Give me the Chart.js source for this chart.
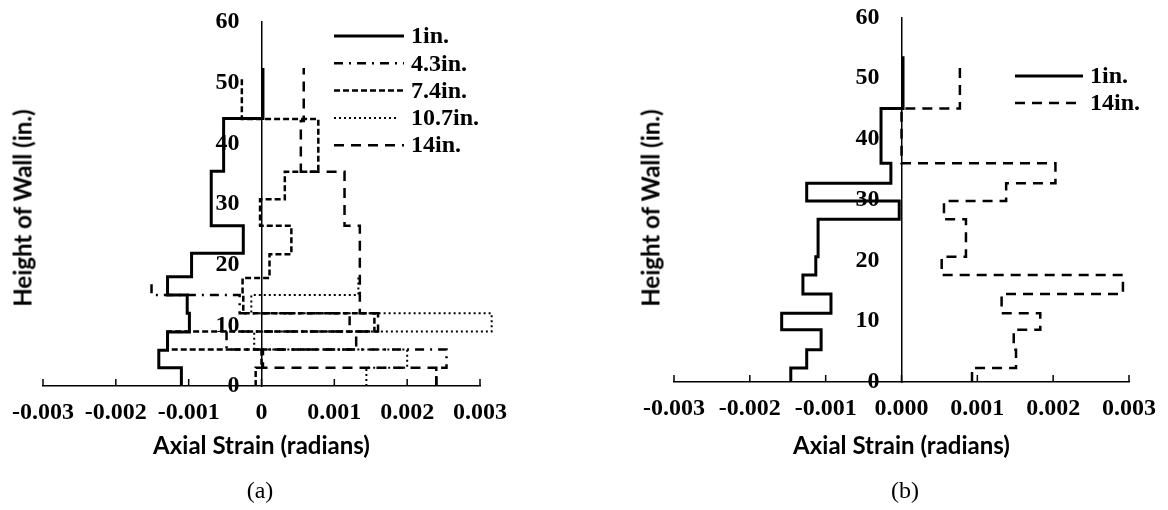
<!DOCTYPE html>
<html>
<head>
<meta charset="utf-8">
<script src="https://cdn.jsdelivr.net/npm/chart.js@4.4.0/dist/chart.umd.min.js"></script>
<style>
  body { margin: 0; background: #fff; }
  #page { position: relative; width: 1168px; height: 510px; overflow: hidden; }
  .panel { position: absolute; top: 0; height: 510px; }
  #panelA { left: 0; width: 560px; }
  #panelB { left: 600px; width: 568px; }
  .ytitle { position: absolute; font: bold 24px Lato, sans-serif; white-space: nowrap;
            transform: translate(-50%, -50%) rotate(-90deg); }
  .cap { position: absolute; font: 24px "Liberation Serif", serif; transform: translate(-50%, -50%); }
</style>
</head>
<body>
<div id="page">
  <div class="panel" id="panelA"><canvas id="chartA" width="560" height="510"></canvas></div>
  <div class="panel" id="panelB"><canvas id="chartB" width="568" height="510"></canvas></div>
  <div class="ytitle" style="left:22px; top:208px;">Height of Wall (in.)</div>
  <div class="ytitle" style="left:650px; top:208px;">Height of Wall (in.)</div>
  <div class="cap" style="left:260px; top:490px;">(a)</div>
  <div class="cap" style="left:905px; top:490px;">(b)</div>
</div>
<script>
// ---- data: wall height breakpoints (in.) and axial strain per gauge segment ----
const tickLabelsA = ['-0.003', '-0.002', '-0.001', '0', '0.001', '0.002', '0.003'];
const tickLabelsB = ['-0.003', '-0.002', '-0.001', '0.000', '0.001', '0.002', '0.003'];

// panel (a)
const hA1 = [0, 3, 5.9, 8.9, 12, 15, 18, 21.9, 26.4, 35.4, 44.1, 52.4];
const sA1 = [-0.0011, -0.00141, -0.00129, -0.00099, -0.00102, -0.00129, -0.00096, -0.00025, -0.00069, -0.00052, 0.00002];

const hA43 = [0, 3, 6, 9, 12, 15, 17.5];
const sA43 = [0.0024, 0.00254, -0.00048, 0.00121, -0.0003, -0.00151];

const hA74 = [0, 3, 6, 9, 12, 15, 17.8, 21.7, 26.4, 30.8, 35.3, 44, 51];
const sA74 = [-0.00008, 0.0, -0.00129, 0.00155, -0.00025, -0.00026, 0.00011, 0.00041, -0.00002, 0.00032, 0.00078, -0.00027];

const hA107 = [0, 3, 6, 9, 12, 15, 18];
const sA107 = [0.00144, 0.002, -0.0001, 0.00316, -0.00014, 0.00133];

const hA14 = [0, 3, 6, 9, 12, 26.4, 35.3, 43.7, 52.4];
const sA14 = [0.0024, 0.00002, 0.0013, 0.0016, 0.00135, 0.00114, 0.00054, 0.00058];

// panel (b)
const hB1 = [0, 2.3, 5.3, 8.6, 11.3, 14.5, 17.6, 20.6, 26.8, 29.8, 32.7, 36, 45, 53.6];
const sB1 = [-0.00146, -0.00125, -0.00106, -0.00158, -0.00093, -0.0013, -0.00113, -0.0011, -0.00003, -0.00125, -0.00014, -0.00027, 0.00002];

const hB14 = [0, 2.3, 5.3, 8.6, 11.3, 14.5, 17.6, 20.6, 26.8, 29.8, 32.7, 36, 45, 52];
const sB14 = [0.00093, 0.00151, 0.00148, 0.00183, 0.00132, 0.00292, 0.00053, 0.00085, 0.00056, 0.00138, 0.00203, 0.0, 0.00077];

// turn breakpoints + segment values into a stepped profile
function steps(h, s) {
  const pts = [];
  for (let i = 0; i < s.length; i++) {
    pts.push({x: s[i], y: h[i]});
    pts.push({x: s[i], y: h[i + 1]});
  }
  return pts;
}

function series(label, h, s, dash, width, legendLen) {
  return {
    label: label,
    data: steps(h, s),
    showLine: true,
    borderColor: '#000',
    backgroundColor: '#000',
    borderWidth: width,
    borderDash: dash,
    pointRadius: 0,
    fill: false,
    clip: false,
    legendLen: legendLen
  };
}

const serifBold = {family: '"Liberation Serif", "Times New Roman", serif', weight: 'bold', size: 24};

// legend drawn inside the plot, line sample + label per dataset
const lineLegend = {
  id: 'lineLegend',
  afterDraw(chart, args, opts) {
    const ctx = chart.ctx;
    ctx.save();
    ctx.font = 'bold 24px "Liberation Serif", serif';
    ctx.textBaseline = 'middle';
    ctx.fillStyle = '#000';
    chart.data.datasets.forEach((ds, i) => {
      const y = opts.y + i * opts.row;
      ctx.beginPath();
      ctx.setLineDash(ds.borderDash);
      ctx.lineWidth = ds.borderWidth;
      ctx.strokeStyle = '#000';
      ctx.moveTo(opts.x, y);
      ctx.lineTo(opts.x + (ds.legendLen || opts.len), y);
      ctx.stroke();
      ctx.setLineDash([]);
      ctx.fillText(ds.label, opts.x + opts.len + 7, y + 1);
    });
    ctx.restore();
  }
};

// short tick marks pointing up from the strain axis
const innerTicks = {
  id: 'innerTicks',
  afterDraw(chart) {
    const xs = chart.scales.x;
    const ctx = chart.ctx;
    const y0 = chart.chartArea.bottom;
    ctx.save();
    ctx.strokeStyle = '#000';
    ctx.lineWidth = 1.5;
    xs.ticks.forEach(t => {
      const px = xs.getPixelForValue(t.value);
      ctx.beginPath();
      ctx.moveTo(px, y0);
      ctx.lineTo(px, y0 - 7);
      ctx.stroke();
    });
    ctx.restore();
  }
};

// height labels sit a little away from the zero line
const yLabelGap = {
  id: 'yLabelGap',
  beforeDraw(chart, args, opts) {
    chart.scales.y.getLabelItems().forEach(item => {
      if (!item._moved) {
        item.options.translation[0] -= opts.gap;
        item._moved = true;
      }
    });
  }
};

function makeChart(id, datasets, tickLabels, pad, legendPos) {
  return new Chart(document.getElementById(id), {
    type: 'scatter',
    data: {datasets: datasets},
    options: {
      responsive: false,
      animation: false,
      layout: {padding: {left: pad.left, right: pad.right, top: pad.top, bottom: 0}},
      plugins: {
        legend: {display: false},
        tooltip: {enabled: false},
        lineLegend: legendPos,
        yLabelGap: {gap: 22}
      },
      scales: {
        x: {
          type: 'linear',
          min: -0.003,
          max: 0.003,
          afterFit(scale) { scale.height = 510 - pad.axisY; },
          ticks: {
            stepSize: 0.001,
            padding: 12,
            maxRotation: 0,
            color: '#000',
            font: serifBold,
            callback: (v, i) => tickLabels[i]
          },
          grid: {display: false, drawTicks: false},
          border: {display: true, color: '#000', width: 1.5},
          title: {
            display: true,
            text: 'Axial Strain (radians)',
            color: '#000',
            font: {family: 'Lato, sans-serif', weight: 'bold', size: 24},
            padding: {top: 0, bottom: 49}
          }
        },
        y: {
          type: 'linear',
          min: 0,
          max: 60,
          position: {x: 0},
          ticks: {stepSize: 10, color: '#000', font: serifBold},
          grid: {display: false, drawTicks: false},
          border: {display: true, color: '#000', width: 1.5}
        }
      }
    },
    plugins: [lineLegend, innerTicks, yLabelGap]
  });
}

makeChart('chartA', [
  series('1in.', hA1, sA1, [], 3),
  series('4.3in.', hA43, sA43, [9, 6, 2, 6], 2.5),
  series('7.4in.', hA74, sA74, [6, 3], 2.5),
  series('10.7in.', hA107, sA107, [2, 3], 2, 64),
  series('14in.', hA14, sA14, [10, 7], 2.5)
], tickLabelsA, {left: 43, right: 80, top: 22, axisY: 386}, {x: 334, y: 36, row: 27.3, len: 70});

makeChart('chartB', [
  series('1in.', hB1, sB1, [], 3),
  series('14in.', hB14, sB14, [10, 7], 2.5)
], tickLabelsB, {left: 74, right: 34, top: 17, axisY: 382}, {x: 415, y: 76, row: 27, len: 68});
</script>
</body>
</html>
